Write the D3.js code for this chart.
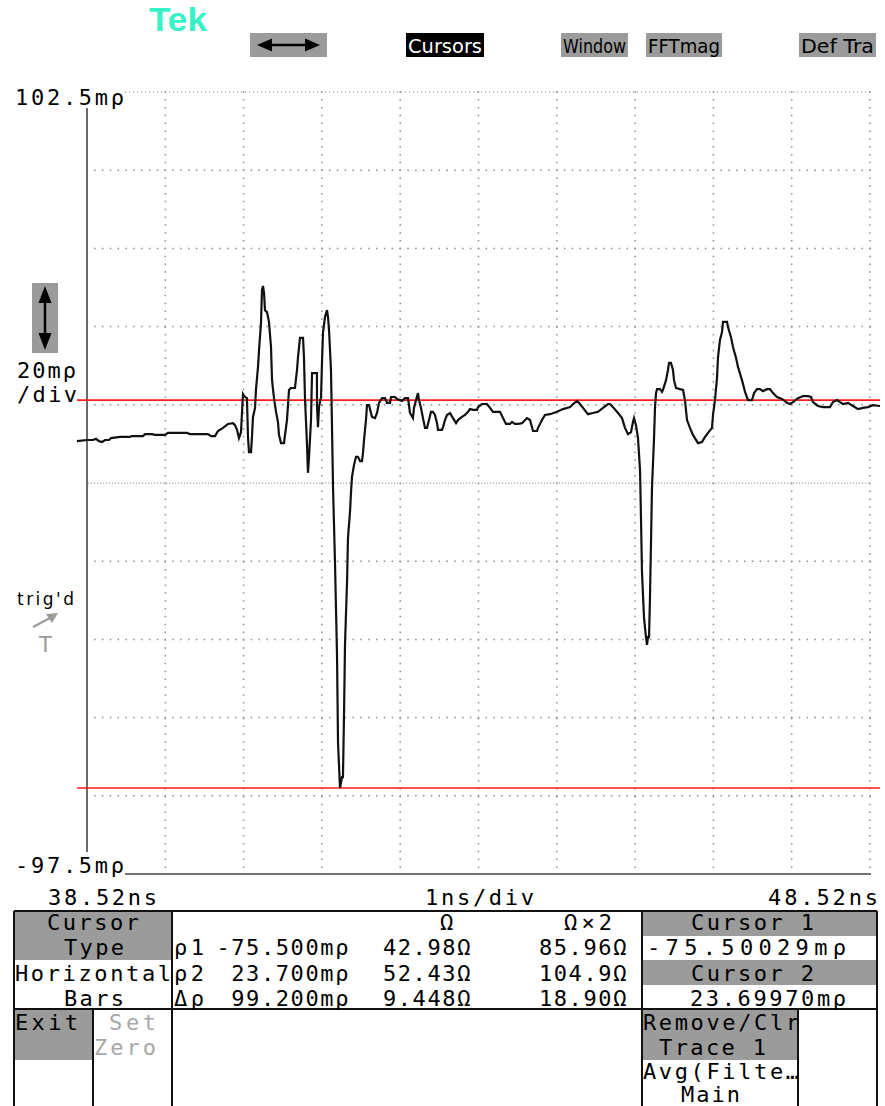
<!DOCTYPE html>
<html>
<head>
<meta charset="utf-8">
<script src="https://cdn.jsdelivr.net/npm/d3@7"></script>
<style>
  html, body { margin: 0; padding: 0; background: #fff; }
  svg { display: block; }
</style>
</head>
<body>
<script>
// ---------- TDR trace: time (ns) and reflection coefficient (mρ) ----------
const timeNs = [
  38.392, 38.520, 38.597, 38.635, 38.673, 38.712, 38.750, 38.801, 38.827, 38.941,
  39.069, 39.095, 39.235, 39.261, 39.350, 39.388, 39.516, 39.554, 39.797, 39.835,
  40.065, 40.104, 40.155, 40.193, 40.257, 40.321, 40.385, 40.410, 40.436, 40.461,
  40.487, 40.500, 40.512, 40.538, 40.563, 40.576, 40.589, 40.615, 40.627, 40.640,
  40.666, 40.678, 40.704, 40.717, 40.742, 40.755, 40.768, 40.781, 40.793, 40.819,
  40.844, 40.870, 40.883, 40.908, 40.934, 40.959, 40.972, 40.998, 41.036, 41.049,
  41.074, 41.087, 41.100, 41.125, 41.176, 41.202, 41.215, 41.240, 41.279, 41.291,
  41.304, 41.330, 41.342, 41.355, 41.381, 41.394, 41.457, 41.457, 41.470, 41.483,
  41.509, 41.521, 41.534, 41.560, 41.585, 41.598, 41.611, 41.636, 41.649, 41.662,
  41.687, 41.713, 41.726, 41.751, 41.777, 41.789, 41.802, 41.815, 41.841, 41.853,
  41.879, 41.892, 41.904, 41.930, 41.956, 41.981, 42.007, 42.032, 42.045, 42.058,
  42.083, 42.096, 42.122, 42.160, 42.198, 42.224, 42.249, 42.288, 42.326, 42.351,
  42.390, 42.403, 42.454, 42.479, 42.543, 42.581, 42.620, 42.645, 42.683, 42.696,
  42.722, 42.747, 42.760, 42.786, 42.811, 42.837, 42.862, 42.888, 42.913, 42.939,
  42.964, 42.990, 43.003, 43.054, 43.067, 43.092, 43.118, 43.156, 43.194, 43.233,
  43.258, 43.309, 43.348, 43.386, 43.411, 43.450, 43.501, 43.514, 43.565, 43.629,
  43.667, 43.705, 43.795, 43.833, 43.871, 43.922, 43.948, 43.986, 44.024, 44.076,
  44.139, 44.178, 44.216, 44.267, 44.280, 44.331, 44.369, 44.433, 44.523, 44.599,
  44.689, 44.727, 44.778, 44.816, 44.855, 44.918, 44.982, 45.046, 45.110, 45.174,
  45.199, 45.238, 45.302, 45.353, 45.391, 45.429, 45.468, 45.493, 45.506, 45.531,
  45.557, 45.583, 45.595, 45.608, 45.634, 45.659, 45.672, 45.685, 45.698, 45.710,
  45.723, 45.736, 45.761, 45.774, 45.787, 45.800, 45.838, 45.864, 45.876, 45.915,
  45.940, 45.953, 45.978, 46.004, 46.017, 46.042, 46.093, 46.132, 46.157, 46.183,
  46.221, 46.259, 46.323, 46.374, 46.413, 46.451, 46.502, 46.515, 46.540, 46.566,
  46.579, 46.604, 46.630, 46.643, 46.694, 46.706, 46.745, 46.770, 46.809, 46.834,
  46.885, 46.924, 46.962, 47.013, 47.039, 47.077, 47.115, 47.153, 47.205, 47.243,
  47.281, 47.332, 47.396, 47.460, 47.498, 47.537, 47.600, 47.664, 47.728, 47.766,
  47.792, 47.856, 47.920, 48.009, 48.047, 48.099, 48.137, 48.175, 48.239, 48.303,
  48.367, 48.431, 48.494, 48.558, 48.648
];
const rhoMilli = [
  13.2, 13.5, 13.5, 13.8, 13.2, 13.0, 13.5, 13.5, 14.0, 14.3,
  14.3, 14.5, 14.5, 15.0, 15.0, 14.8, 14.8, 15.3, 15.3, 15.0,
  15.0, 14.5, 14.5, 15.8, 16.6, 17.6, 17.8, 17.3, 16.1, 14.0,
  15.5, 20.7, 25.3, 24.5, 24.2, 14.3, 10.4, 10.4, 14.3, 19.4,
  21.7, 26.3, 32.2, 36.5, 43.4, 51.9, 52.9, 51.1, 46.7, 46.2,
  43.7, 37.3, 28.8, 24.2, 20.7, 18.1, 14.8, 12.7, 12.7, 14.8,
  18.6, 22.4, 26.3, 26.8, 26.8, 31.4, 34.7, 39.6, 39.6, 34.7,
  24.2, 12.2, 5.1, 8.9, 18.6, 30.6, 30.6, 22.4, 16.8, 21.9,
  24.5, 33.2, 40.9, 45.0, 46.7, 45.0, 41.6, 31.4, 16.8, 1.5,
  -17.7, -41.5, -64.0, -75.5, -72.7, -72.7, -57.3, -38.9, -22.8, -11.6,
  -4.9, 0.2, 4.0, 7.1, 9.2, 9.2, 8.1, 8.1, 10.2, 13.5,
  18.6, 22.4, 22.4, 19.4, 19.1, 20.4, 23.0, 24.2, 24.2, 23.0,
  23.0, 24.5, 24.5, 24.0, 23.5, 24.2, 24.2, 20.4, 19.1, 21.7,
  23.7, 25.5, 23.7, 21.7, 19.1, 16.6, 16.6, 18.6, 20.7, 20.7,
  19.9, 17.8, 16.1, 16.1, 16.8, 18.6, 19.9, 20.4, 19.1, 17.8,
  18.6, 19.4, 19.9, 20.7, 21.4, 21.2, 21.2, 21.9, 22.7, 22.7,
  21.7, 20.7, 20.7, 19.1, 17.6, 17.6, 18.1, 17.6, 17.6, 17.8,
  19.1, 18.6, 15.8, 15.8, 16.6, 18.6, 19.9, 20.1, 20.7, 21.4,
  21.9, 22.7, 23.5, 22.7, 21.7, 20.1, 20.4, 20.7, 21.7, 22.7,
  22.7, 21.9, 20.4, 19.1, 16.6, 15.0, 15.5, 18.1, 19.1, 17.3,
  14.0, 5.8, -6.2, -20.3, -32.0, -36.9, -38.9, -36.9, -36.9, -26.9,
  -12.6, 1.5, 13.5, 21.7, 25.5, 26.5, 26.5, 25.8, 26.3, 28.8,
  31.4, 33.2, 33.2, 31.4, 28.8, 26.8, 26.5, 26.3, 23.7, 18.6,
  16.6, 14.8, 12.7, 13.0, 14.3, 15.3, 16.6, 19.9, 23.7, 29.4,
  34.7, 39.1, 41.1, 43.7, 43.7, 42.4, 39.8, 37.3, 34.5, 32.2,
  28.8, 25.8, 23.7, 23.7, 25.5, 26.5, 26.5, 26.0, 26.5, 26.5,
  25.5, 24.5, 24.0, 23.0, 22.7, 23.2, 24.2, 24.7, 24.7, 24.5,
  23.2, 22.2, 21.9, 21.9, 23.2, 23.7, 23.2, 22.7, 23.0, 22.2,
  21.4, 21.7, 21.9, 22.4, 22.2
];

// ---------- screen settings and readouts ----------
const timeSpan = [38.52, 48.52];          // ns, left and right screen edge
const rhoSpan = [-97.5, 102.5];           // mρ, bottom and top screen edge
const divisions = 10;
const cursorLevels = [-75.5, 23.7];       // horizontal bar cursors, mρ
const rhoLabels = ["102.5mρ", "-97.5mρ"];
const scaleLabels = ["20mρ", "/div"];
const timeLabels = ["38.52ns", "1ns/div", "48.52ns"];
const menuLabels = ["Cursors", "Window", "FFTmag", "Def Tra"];
const readoutHeader = ["Ω", "Ω×2"];
const readoutRows = [
  ["ρ1", "-75.500mρ", "42.98Ω", "85.96Ω"],
  ["ρ2", "23.700mρ", "52.43Ω", "104.9Ω"],
  ["Δρ", "99.200mρ", "9.448Ω", "18.90Ω"]
];
const cursorReadouts = [["Cursor 1", "-75.50029mρ"], ["Cursor 2", "23.69970mρ"]];
const sideMenu = [["Cursor", "Type"], ["Horizontal", "Bars"]];
const lowerMenu = [["Exit"], ["Set", "Zero"], ["Remove/Clr", "Trace 1"], ["Avg(Filte…", "Main"]];

// ---------- drawing ----------
const W = 885, H = 1106;
const MONO = "'DejaVu Sans Mono', monospace";
const SANS = "'DejaVu Sans', sans-serif";
const GRAY = "#9b9b9b";

const svg = d3.select("body").append("svg")
  .attr("width", W).attr("height", H)
  .attr("viewBox", `0 0 ${W} ${H}`);

const x = d3.scaleLinear().domain(timeSpan).range([87, 870]);
const y = d3.scaleLinear().domain(rhoSpan).range([874, 92]);

function label(g, str, x0, x1, base, o = {}) {
  const t = g.append("text")
    .attr("x", x0).attr("y", base)
    .attr("font-family", o.family || MONO)
    .attr("font-size", o.size || 22)
    .attr("fill", o.fill || "#000")
    .text(str);
  if (x1 != null) t.attr("textLength", x1 - x0).attr("lengthAdjust", o.adjust || "spacing");
  return t;
}

// --- graticule ---
const grid = svg.append("g");
const tStep = (timeSpan[1] - timeSpan[0]) / divisions;
const rStep = (rhoSpan[1] - rhoSpan[0]) / divisions;
const dotGap = (x(timeSpan[0] + tStep) - x(timeSpan[0])) / 10;
const vLines = d3.range(1, divisions + 1).map(i => timeSpan[0] + i * tStep);
const hLines = d3.range(1, divisions).map(i => rhoSpan[0] + i * rStep);
const centre = rhoSpan[0] + (divisions / 2) * rStep;

grid.selectAll("line.v").data(vLines).join("line")
  .attr("x1", d => x(d)).attr("x2", d => x(d))
  .attr("y1", y(rhoSpan[1]) - 0.75).attr("y2", y(rhoSpan[0]))
  .attr("stroke", "#8c8c8c").attr("stroke-width", 1.5)
  .attr("stroke-dasharray", `1.5 ${dotGap - 1.5}`);

grid.selectAll("line.h").data(hLines.filter(d => Math.abs(d - centre) > 1e-6)).join("line")
  .attr("x1", x(timeSpan[0]) + dotGap - 0.75).attr("x2", x(timeSpan[1]) + 1)
  .attr("y1", d => y(d)).attr("y2", d => y(d))
  .attr("stroke", "#8c8c8c").attr("stroke-width", 1.5)
  .attr("stroke-dasharray", `1.5 ${dotGap - 1.5}`);

// centre line: fine dots
grid.append("line")
  .attr("x1", x(timeSpan[0]) + 1).attr("x2", x(timeSpan[1]) + 1)
  .attr("y1", y(centre)).attr("y2", y(centre))
  .attr("stroke", "#8c8c8c").attr("stroke-width", 1.2)
  .attr("stroke-dasharray", "1.2 1.8");

// top edge: fine dots after the label
grid.append("line")
  .attr("x1", 125).attr("x2", x(timeSpan[1]) + 1)
  .attr("y1", y(rhoSpan[1])).attr("y2", y(rhoSpan[1]))
  .attr("stroke", "#8c8c8c").attr("stroke-width", 1.2)
  .attr("stroke-dasharray", "1.2 2.8");

// left axis and bottom edge
grid.append("line")
  .attr("x1", x(timeSpan[0])).attr("x2", x(timeSpan[0]))
  .attr("y1", 108).attr("y2", 855)
  .attr("stroke", "#444").attr("stroke-width", 1.6);
grid.append("line")
  .attr("x1", 125).attr("x2", x(timeSpan[1]) + 1)
  .attr("y1", y(rhoSpan[0])).attr("y2", y(rhoSpan[0]))
  .attr("stroke", "#444").attr("stroke-width", 1.6);

// --- cursor bars ---
svg.append("g").selectAll("line").data(cursorLevels).join("line")
  .attr("x1", x(timeSpan[0]) - 10).attr("x2", x(timeSpan[1]) + 10)
  .attr("y1", d => y(d)).attr("y2", d => y(d))
  .attr("stroke", "#ff1a1a").attr("stroke-width", 1.6);

// --- trace ---
const trace = d3.zip(timeNs, rhoMilli);
svg.append("path")
  .datum(trace)
  .attr("fill", "none")
  .attr("stroke", "#111")
  .attr("stroke-width", 2.2)
  .attr("stroke-linejoin", "miter")
  .attr("d", d3.line().x(d => x(d[0])).y(d => y(d[1])));

// --- screen labels ---
const lab = svg.append("g");
// white backing so the labels sit over the edge lines
lab.append("rect").attr("x", 12).attr("y", 852).attr("width", 113).attr("height", 26).attr("fill", "#fff");
label(lab, rhoLabels[0], 15, 124, 105);
label(lab, rhoLabels[1], 15, 124, 873);
label(lab, scaleLabels[0], 17, 76, 378);
label(lab, scaleLabels[1], 17, 77, 402);
label(lab, timeLabels[0], 48, 157, 905);
label(lab, timeLabels[1], 425, 534, 905);
label(lab, timeLabels[2], 768, 878, 905);
label(lab, "trig'd", 17, 74, 605, { family: SANS, size: 17 });

// trigger marker
lab.append("path")
  .attr("d", "M33,627 L50,618")
  .attr("stroke", GRAY).attr("stroke-width", 2.2).attr("fill", "none");
lab.append("path")
  .attr("d", "M46,614 L58,613 L52,623 Z").attr("fill", GRAY);
label(lab, "T", 39, null, 652, { family: SANS, size: 21, fill: GRAY });

// vertical position control
lab.append("rect").attr("x", 32).attr("y", 283).attr("width", 26).attr("height", 70).attr("fill", GRAY);
lab.append("line").attr("x1", 45).attr("x2", 45).attr("y1", 295).attr("y2", 341)
  .attr("stroke", "#000").attr("stroke-width", 2.5);
lab.append("path").attr("d", "M45,286 L38.5,303 L51.5,303 Z").attr("fill", "#000");
lab.append("path").attr("d", "M45,350 L38.5,333 L51.5,333 Z").attr("fill", "#000");

// --- top menu ---
const menuBar = svg.append("g");
menuBar.append("text").attr("x", 149).attr("y", 31)
  .attr("font-family", "'Liberation Sans', Arial, sans-serif")
  .attr("font-weight", "bold").attr("font-size", 34)
  .attr("textLength", 58).attr("lengthAdjust", "spacingAndGlyphs")
  .attr("fill", "#36f2c6").text("Tek");

menuBar.append("rect").attr("x", 250).attr("y", 33).attr("width", 77).attr("height", 24).attr("fill", GRAY);
menuBar.append("line").attr("x1", 266).attr("x2", 311).attr("y1", 45).attr("y2", 45)
  .attr("stroke", "#000").attr("stroke-width", 2.5);
menuBar.append("path").attr("d", "M257,45 L272,38.5 L272,51.5 Z").attr("fill", "#000");
menuBar.append("path").attr("d", "M320,45 L305,38.5 L305,51.5 Z").attr("fill", "#000");

const menuBoxes = [[406, 484], [561, 628], [646, 722], [799, 876]];
menuLabels.forEach((m, i) => {
  const [a, b] = menuBoxes[i];
  const active = i === 0;
  menuBar.append("rect").attr("x", a).attr("y", 33).attr("width", b - a).attr("height", 24)
    .attr("fill", active ? "#000" : GRAY);
  label(menuBar, m, a + 2, b - 2, 53, { family: SANS, size: 19, adjust: "spacingAndGlyphs", fill: active ? "#fff" : "#000" });
});

// --- lower readout panel ---
const panel = svg.append("g");
const pTop = 911, pMid = 1009, pBot = H + 2;
// shaded cells
panel.append("rect").attr("x", 15).attr("y", pTop).attr("width", 157).attr("height", 49).attr("fill", GRAY);
panel.append("rect").attr("x", 15).attr("y", pMid).attr("width", 78).attr("height", 51).attr("fill", GRAY);
panel.append("rect").attr("x", 642).attr("y", pTop).attr("width", 235).attr("height", 25).attr("fill", GRAY);
panel.append("rect").attr("x", 642).attr("y", 960).attr("width", 235).attr("height", 25).attr("fill", GRAY);
panel.append("rect").attr("x", 642).attr("y", pMid).attr("width", 156).attr("height", 51).attr("fill", GRAY);

const rule = (x1, y1, x2, y2) => panel.append("line")
  .attr("x1", x1).attr("y1", y1).attr("x2", x2).attr("y2", y2)
  .attr("stroke", "#111").attr("stroke-width", 2);
rule(14, pTop, 877, pTop);
rule(14, pMid, 877, pMid);
rule(14, pTop, 14, pBot);
rule(172, pTop, 172, pBot);
rule(642, pTop, 642, pBot);
rule(877, pTop, 877, pBot);
rule(93, pMid, 93, pBot);
rule(798, pMid, 798, pBot);

// left menu
label(panel, sideMenu[0][0], 47, 139, 930);
label(panel, sideMenu[0][1], 64, 124, 955);
label(panel, sideMenu[1][0], 15, 171, 981);
label(panel, sideMenu[1][1], 64, 124, 1006);
label(panel, lowerMenu[0][0], 15, 78, 1030);
label(panel, lowerMenu[1][0], 109, 156, 1030, { fill: "#a8a8a8" });
label(panel, lowerMenu[1][1], 94, 156, 1055, { fill: "#a8a8a8" });

// readout table
label(panel, readoutHeader[0], 440, null, 930);
label(panel, readoutHeader[1], 564, 612, 930);
const colEnds = [null, 350, 472, 628];
readoutRows.forEach((row, r) => {
  const base = 955 + r * 25.5;
  label(panel, row[0], 174, 204, base);
  [1, 2, 3].forEach(c => {
    panel.append("text")
      .attr("x", colEnds[c]).attr("y", base)
      .attr("text-anchor", "end")
      .attr("font-family", MONO).attr("font-size", 22)
      .attr("letter-spacing", 1.6)
      .text(row[c]);
  });
});

// cursor readouts
cursorReadouts.forEach((cr, i) => {
  const base = 930 + i * 51;
  label(panel, cr[0], 691, 814, base);
  label(panel, cr[1], i === 0 ? 647 : 690, 846, base + 25);
});

// right lower menu
label(panel, lowerMenu[2][0], 643, 799, 1030);
label(panel, lowerMenu[2][1], 659, 766, 1055);
label(panel, lowerMenu[3][0], 643, 799, 1079);
label(panel, lowerMenu[3][1], 681, 740, 1102);
</script>
</body>
</html>
